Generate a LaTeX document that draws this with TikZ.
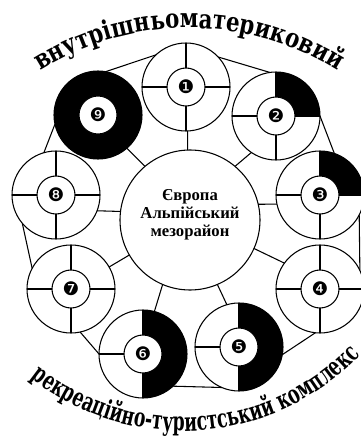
\documentclass[tikz,border=0pt]{standalone}
\usepackage{fontspec}
\setmainfont{Liberation Serif}
\newfontfamily\topfont[FakeStretch=0.8]{DejaVu Serif}
\newfontfamily\botfont[FakeStretch=0.66]{DejaVu Serif}
\newfontfamily\dingfont{DejaVu Sans}
\usetikzlibrary{decorations.text}

\newcommand{\ringspokes}[1]{%
  \foreach \a in {north,east,south,west} \draw (#1i.\a) -- (#1.\a);}

\begin{document}
\begin{tikzpicture}[x=0.75pt,y=0.75pt,line width=.8pt,
  ring/.style={circle,draw,minimum size=66pt,inner sep=0pt,outer sep=0pt},
  hub/.style={circle,draw,fill=white,minimum size=28.5pt,inner sep=0pt,outer sep=0pt,font=\dingfont\fontsize{14}{14}\selectfont},
  core/.style={circle,draw,minimum size=105pt,inner sep=0pt,outer sep=0pt}]
\useasboundingbox (0,0) rectangle (361,437);
\clip (0,0) rectangle (361,437);
% outer rings
\node[ring] (c1) at (186,350) {};
\node[ring] (c2) at (276,321) {};
\node[ring] (c3) at (320,242) {};
\node[ring] (c4) at (320,148) {};
\node[ring] (c5) at (239,90) {};
\node[ring] (c6) at (143,83) {};
\node[ring] (c7) at (71,148) {};
\node[ring] (c8) at (56,242) {};
\node[ring] (c9) at (98,322) {};
\node[core] (cen) at (190,217) {};
\node[align=center,font=\bfseries\fontsize{12.5}{13.5}\selectfont] (cenlbl) at (190,222) {Європа\\Альпійський\\мезорайон};
% black parts
\fill (c2.center) -- (c2.east) arc[start angle=0,end angle=90,radius=44] -- cycle;
\fill (c3.center) -- (c3.east) arc[start angle=0,end angle=90,radius=44] -- cycle;
\fill (c5.south) arc[start angle=-90,end angle=90,radius=44] -- cycle;
\fill (c6.south) arc[start angle=-90,end angle=90,radius=44] -- cycle;
\fill (c9) circle[radius=44];
% hubs
\node[hub] (c1i) at (c1) {❶};
\node[hub] (c2i) at (c2) {❷};
\node[hub] (c3i) at (c3) {❸};
\node[hub] (c4i) at (c4) {❹};
\node[hub] (c5i) at (c5) {❺};
\node[hub] (c6i) at (c6) {❻};
\node[hub] (c7i) at (c7) {❼};
\node[hub] (c8i) at (c8) {❽};
\node[hub] (c9i) at (c9) {❾};
\ringspokes{c1}\ringspokes{c2}\ringspokes{c3}
\ringspokes{c4}\ringspokes{c5}\ringspokes{c6}
\ringspokes{c7}\ringspokes{c8}\ringspokes{c9}
% chain
\draw (c9.80) -- (c1.133);
\draw (c1.43) -- (c2.98);
\draw (c2.0) -- (c3.71);
\draw (c3.-27) -- (c4.25);
\draw (c4.-96) -- (c5.-10);
\draw (c5.-113) -- (c6.-47);
\draw (c6.180) -- (c7.-78);
\draw (c7.152) -- (c8.220);
\draw (c8.106) -- (c9.192);
% spokes from the centre
\draw (cen.92) -- (c1.-88);
\draw (cen.50) -- (c2.236);
\draw (cen.13) -- (c3.192);
\draw (cen.-24) -- (c4.144);
\draw (cen.-67) -- (c5.106);
\draw (cen.247) -- (c6.75);
\draw (cen.210) -- (c7.30);
\draw (cen.173) -- (c8.-21);
\draw (cen.130) -- (c9.-49);
% arc titles
\path[decorate,decoration={text along path,text align=center,
  text={|\topfont\bfseries\fontsize{20}{20}\selectfont|внутрішньоматериковий}}]
  (189,129) ++(150:280) arc[start angle=150,end angle=30,radius=280];
\path[decorate,decoration={text along path,text align=center,
  text={|\botfont\bfseries\fontsize{19.5}{19.5}\selectfont|рекреаційно-туристський комплекс}}]
  (183,251) ++(223:245) arc[start angle=223,end angle=325,radius=245];
\end{tikzpicture}
\end{document}
